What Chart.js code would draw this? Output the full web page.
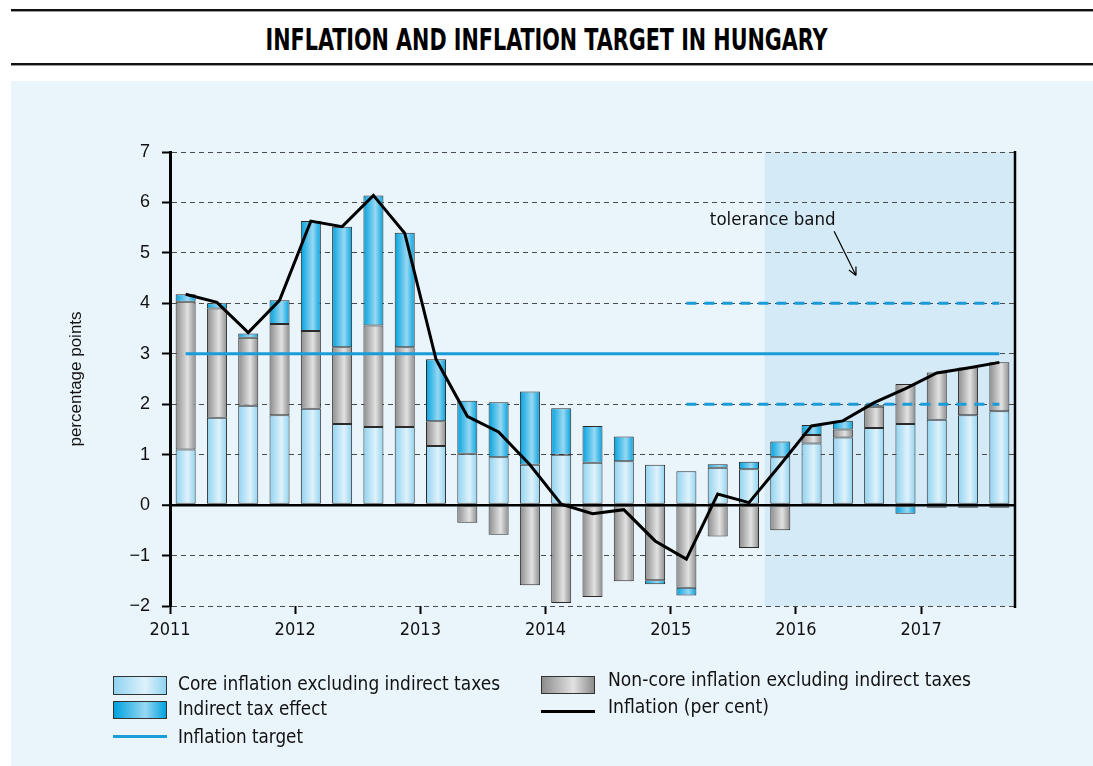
<!DOCTYPE html>
<html>
<head>
<meta charset="utf-8">
<script src="https://cdn.jsdelivr.net/npm/chart.js@4.4.1/dist/chart.umd.min.js"></script>
<style>
  body { margin: 0; width: 1093px; height: 766px; background: #fff; position: relative; overflow: hidden;
         font-family: 'Liberation Sans Narrow', 'DejaVu Sans Condensed', 'Roboto Condensed', 'Liberation Sans', sans-serif; }
  .rule { position: absolute; left: 11px; right: 0; height: 2px; background: #111; box-shadow: 0 1px 0 #999; }
  #title { position: absolute; top: 21px; left: 0; width: 1093px; text-align: center; font-weight: bold;
           font-size: 31px; line-height: 36px; color: #000; }
  #title span { display: inline-block; transform-origin: center; }
  #panel { position: absolute; left: 11px; top: 81px; width: 1082px; height: 685px; background: #eaf5fb; }
  #chart { position: absolute; left: 0; top: 0; }
  .lg { position: absolute; font-size: 20px; color: #111; white-space: nowrap; line-height: 22px; }
  .lg span { display: inline-block; transform-origin: left center; }
  .sw { position: absolute; width: 52px; border: 1px solid #333; }
  .ln { position: absolute; width: 54px; height: 3px; }
</style>
</head>
<body>
<div class="rule" style="top:9px"></div>
<div id="title"><span>INFLATION AND INFLATION TARGET IN HUNGARY</span></div>
<div class="rule" style="top:63px"></div>
<div id="panel">
  <canvas id="chart" width="1082" height="600"></canvas>
</div>
<div id="legend"></div>

<script>
const quarters = [
    '2011 Q1', '2011 Q2', '2011 Q3', '2011 Q4',
    '2012 Q1', '2012 Q2', '2012 Q3', '2012 Q4',
    '2013 Q1', '2013 Q2', '2013 Q3', '2013 Q4',
    '2014 Q1', '2014 Q2', '2014 Q3', '2014 Q4',
    '2015 Q1', '2015 Q2', '2015 Q3', '2015 Q4',
    '2016 Q1', '2016 Q2', '2016 Q3', '2016 Q4',
    '2017 Q1', '2017 Q2', '2017 Q3'
];
const yearTicks = [2011, 2012, 2013, 2014, 2015, 2016, 2017];

const coreInflation = [1.10, 1.73, 1.97, 1.78, 1.91, 1.61, 1.55, 1.55, 1.17, 1.02, 0.95, 0.80, 1.00, 0.84,
    0.87, 0.80, 0.67, 0.74, 0.71, 0.95, 1.22, 1.34, 1.53, 1.61, 1.69, 1.78, 1.86];
const nonCoreInflation = [2.93, 2.17, 1.35, 1.81, 1.54, 1.52, 2.01, 1.58, 0.49, -0.35, -0.59, -1.59, -1.94, -1.82,
    -1.51, -1.49, -1.64, -0.62, -0.85, -0.50, 0.17, 0.16, 0.42, 0.79, 0.94, 0.95, 0.97];
const indirectTax = [0.15, 0.10, 0.08, 0.47, 2.18, 2.39, 2.58, 2.27, 1.23, 1.05, 1.09, 1.45, 0.92, 0.73,
    0.49, -0.08, -0.15, 0.07, 0.15, 0.31, 0.20, 0.17, 0.03, -0.17, -0.05, -0.05, -0.05];
const inflation = [4.18, 4.02, 3.42, 4.06, 5.63, 5.52, 6.14, 5.39, 2.89, 1.76, 1.45, 0.80, 0.02, -0.17,
    -0.09, -0.71, -1.07, 0.22, 0.05, 0.80, 1.57, 1.67, 2.03, 2.31, 2.62, 2.72, 2.83];
const inflationTarget = [3, 3, 3, 3, 3, 3, 3, 3, 3, 3, 3, 3, 3, 3, 3, 3, 3, 3, 3, 3, 3, 3, 3, 3, 3, 3, 3];
const toleranceUpper = [null, null, null, null, null, null, null, null, null, null, null, null, null, null,
    null, null, 4, 4, 4, 4, 4, 4, 4, 4, 4, 4, 4];
const toleranceLower = [null, null, null, null, null, null, null, null, null, null, null, null, null, null,
    null, null, 2, 2, 2, 2, 2, 2, 2, 2, 2, 2, 2];

const shadeFromIndex = 19;   // 2015 Q4 onwards is shaded (forecast)

const narrow = "'Liberation Sans Narrow', 'DejaVu Sans Condensed', 'Roboto Condensed', 'Liberation Sans', sans-serif";
const BLUE = '#1a9cd8';

// horizontal "cylinder" gradient for each bar
function barGradient(edge, mid) {
    return function (ctx) {
        const chart = ctx.chart;
        const xs = chart.scales.x;
        if (!chart.chartArea || !xs || ctx.type !== 'data') return edge;
        const cx = xs.getPixelForValue(ctx.dataIndex);
        const half = xs.width / quarters.length * 0.32;
        const g = chart.ctx.createLinearGradient(cx - half, 0, cx + half, 0);
        g.addColorStop(0, edge);
        g.addColorStop(0.6, mid);
        g.addColorStop(1, edge);
        return g;
    };
}

const extras = {
    id: 'extras',
    beforeDraw(chart) {
        const {ctx, chartArea: a, scales: {x}} = chart;
        const left = x.getPixelForValue(shadeFromIndex - 0.5);
        ctx.save();
        ctx.fillStyle = '#d5eaf7';
        ctx.fillRect(left, a.top, a.right - left, a.bottom - a.top);
        ctx.restore();
    },
    afterDraw(chart) {
        const {ctx, chartArea: a, scales: {x, y}} = chart;
        ctx.save();
        // right frame
        ctx.strokeStyle = '#000';
        ctx.lineWidth = 2.5;
        ctx.beginPath();
        ctx.moveTo(a.right, a.top - 1);
        ctx.lineTo(a.right, a.bottom + 2);
        ctx.stroke();

        // "tolerance band" note with arrow
        ctx.fillStyle = '#111';
        ctx.font = '18.5px ' + narrow;
        ctx.textBaseline = 'middle';
        ctx.fillText('tolerance band', x.getPixelForValue(16.75), y.getPixelForValue(5.64));
        const x0 = x.getPixelForValue(20.72), y0 = y.getPixelForValue(5.43);
        const x1 = x.getPixelForValue(21.42), y1 = y.getPixelForValue(4.55);
        ctx.lineWidth = 1.2;
        ctx.beginPath();
        ctx.moveTo(x0, y0);
        ctx.lineTo(x1, y1);
        const ang = Math.atan2(y1 - y0, x1 - x0);
        ctx.moveTo(x1, y1);
        ctx.lineTo(x1 - 9 * Math.cos(ang - 0.45), y1 - 9 * Math.sin(ang - 0.45));
        ctx.moveTo(x1, y1);
        ctx.lineTo(x1 - 9 * Math.cos(ang + 0.45), y1 - 9 * Math.sin(ang + 0.45));
        ctx.stroke();
        ctx.restore();
    }
};

const barStyle = {
    type: 'bar',
    stack: 'bars',
    borderColor: '#2b2b2b',
    borderWidth: 1,
    borderSkipped: false,
    categoryPercentage: 1,
    barPercentage: 0.64,
    order: 3
};

const chart = new Chart(document.getElementById('chart').getContext('2d'), {
    type: 'bar',
    data: {
        labels: quarters,
        datasets: [
            {...barStyle, label: 'Core inflation excluding indirect taxes', data: coreInflation,
                backgroundColor: barGradient('#8fd3f1', '#dff2fb')},
            {...barStyle, label: 'Non-core inflation excluding indirect taxes', data: nonCoreInflation,
                backgroundColor: barGradient('#8c8c8c', '#e2e2e2')},
            {...barStyle, label: 'Indirect tax effect', data: indirectTax,
                backgroundColor: barGradient('#00a2df', '#98d8f3')},
            {type: 'line', label: 'Tolerance band upper', data: toleranceUpper, stack: 'tu',
                borderColor: BLUE, borderWidth: 3, borderDash: [10, 8], pointRadius: 0, order: 2},
            {type: 'line', label: 'Tolerance band lower', data: toleranceLower, stack: 'tl',
                borderColor: BLUE, borderWidth: 3, borderDash: [10, 8], pointRadius: 0, order: 2},
            {type: 'line', label: 'Inflation target', data: inflationTarget, stack: 'tg',
                borderColor: BLUE, borderWidth: 3, pointRadius: 0, order: 2},
            {type: 'line', label: 'Inflation (per cent)', data: inflation, stack: 'inf',
                borderColor: '#000', borderWidth: 3, pointRadius: 0, tension: 0, order: 1}
        ]
    },
    options: {
        responsive: false,
        animation: false,
        layout: {padding: {left: 0, right: 78, top: 71, bottom: 35}},
        plugins: {legend: {display: false}, tooltip: {enabled: false}},
        scales: {
            x: {type: 'category', display: false, stacked: true, offset: true},
            year: {
                type: 'linear',
                position: 'bottom',
                min: 2011,
                max: 2017.75,
                offset: false,
                afterBuildTicks: (s) => { s.ticks = yearTicks.map(v => ({value: v})); },
                afterFit: (s) => { s.height = 40; },
                grid: {offset: false, drawOnChartArea: false, tickLength: 8, tickColor: '#000', tickWidth: 2},
                border: {display: false},
                ticks: {
                    autoSkip: false, maxRotation: 0, padding: 6, color: '#111',
                    font: {family: narrow, size: 18},
                    callback: (v) => String(v)
                }
            },
            y: {
                stacked: true,
                min: -2,
                max: 7,
                afterFit: (s) => { s.width = 159; },
                ticks: {
                    stepSize: 1, padding: 12, color: '#111',
                    font: {family: "'Liberation Sans', Arial, sans-serif", size: 18},
                    callback: (v) => v < 0 ? '\u2212' + Math.abs(v) : String(v)
                },
                grid: {
                    color: (c) => c.tick && c.tick.value === 0 ? '#000' : '#4a4a4a',
                    lineWidth: (c) => c.tick && c.tick.value === 0 ? 2.5 : 1,
                    tickColor: '#000', tickWidth: 2, tickLength: 8
                },
                border: {
                    color: '#000', width: 3,
                    dash: (c) => c.tick && c.tick.value !== 0 ? [5, 4] : []
                },
                title: {
                    display: true, text: 'percentage points', color: '#111',
                    font: {family: "'Liberation Sans', Arial, sans-serif", size: 17},
                    padding: {top: 55, bottom: 0}
                }
            }
        }
    },
    plugins: [extras]
});

// legend, built from the chart's own datasets
const legendItems = [
    {ds: 0, left: 113, top: 676, h: 17, grad: 'linear-gradient(90deg,#8fd3f1,#dff2fb 60%,#8fd3f1)', tx: 178, ty: 683},
    {ds: 2, left: 113, top: 701, h: 16, grad: 'linear-gradient(90deg,#00a2df,#98d8f3 60%,#00a2df)', tx: 178, ty: 708},
    {ds: 5, left: 113, top: 735, line: BLUE, tx: 178, ty: 736},
    {ds: 1, left: 541, top: 676, h: 16, grad: 'linear-gradient(90deg,#8c8c8c,#e2e2e2 60%,#8c8c8c)', tx: 608, ty: 679},
    {ds: 6, left: 541, top: 710, line: '#000', tx: 608, ty: 706}
];
const legendWidths = {0: 322, 2: 149, 5: 125, 1: 363, 6: 161};
const legend = document.getElementById('legend');
for (const it of legendItems) {
    if (it.line) {
        const l = document.createElement('div');
        l.className = 'ln';
        l.style.cssText = `left:${it.left}px;top:${it.top}px;background:${it.line}`;
        legend.appendChild(l);
    } else {
        const s = document.createElement('div');
        s.className = 'sw';
        s.style.cssText = `left:${it.left}px;top:${it.top}px;height:${it.h}px;background:${it.grad}`;
        legend.appendChild(s);
    }
    const t = document.createElement('div');
    t.className = 'lg';
    t.style.left = it.tx + 'px';
    t.style.top = (it.ty - 11) + 'px';
    t.innerHTML = '<span>' + chart.data.datasets[it.ds].label + '</span>';
    legend.appendChild(t);
    const sp = t.firstChild;
    sp.style.transform = `scaleX(${legendWidths[it.ds] / sp.getBoundingClientRect().width})`;
}

const ts = document.querySelector('#title span');
ts.style.transform = `scaleX(${562 / ts.getBoundingClientRect().width})`;
</script>
</body>
</html>
